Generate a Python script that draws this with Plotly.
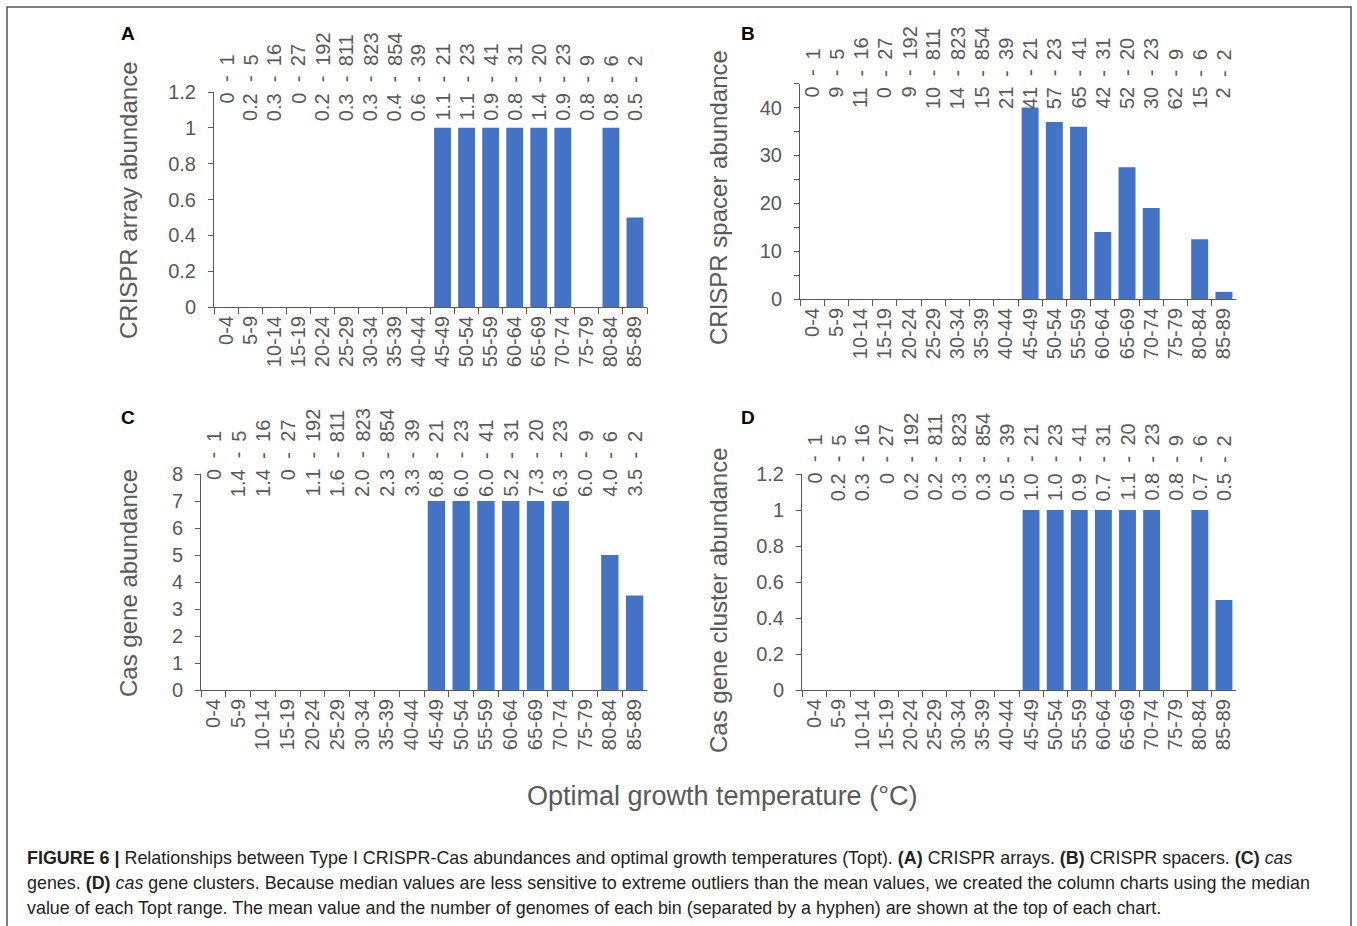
import plotly.graph_objects as go

categories = ["0-4", "5-9", "10-14", "15-19", "20-24", "25-29", "30-34", "35-39", "40-44",
              "45-49", "50-54", "55-59", "60-64", "65-69", "70-74", "75-79", "80-84", "85-89"]
counts = [1, 5, 16, 27, 192, 811, 823, 854, 39, 21, 23, 41, 31, 20, 23, 9, 6, 2]

# Panel A: CRISPR arrays
a_median = [0, 0, 0, 0, 0, 0, 0, 0, 0, 1, 1, 1, 1, 1, 1, 0, 1, 0.5]
a_mean = ["0", "0.2", "0.3", "0", "0.2", "0.3", "0.3", "0.4", "0.6", "1.1", "1.1", "0.9", "0.8", "1.4", "0.9", "0.8", "0.8", "0.5"]
# Panel B: CRISPR spacers
b_median = [0, 0, 0, 0, 0, 0, 0, 0, 0, 40, 37, 36, 14, 27.5, 19, 0, 12.5, 1.5]
b_mean = ["0", "9", "11", "0", "9", "10", "14", "15", "21", "41", "57", "65", "42", "52", "30", "62", "15", "2"]
# Panel C: cas genes
c_median = [0, 0, 0, 0, 0, 0, 0, 0, 0, 7, 7, 7, 7, 7, 7, 0, 5, 3.5]
c_mean = ["0", "1.4", "1.4", "0", "1.1", "1.6", "2.0", "2.3", "3.3", "6.8", "6.0", "6.0", "5.2", "7.3", "6.3", "6.0", "4.0", "3.5"]
# Panel D: cas gene clusters
d_median = [0, 0, 0, 0, 0, 0, 0, 0, 0, 1, 1, 1, 1, 1, 1, 0, 1, 0.5]
d_mean = ["0", "0.2", "0.3", "0", "0.2", "0.2", "0.3", "0.3", "0.5", "1.0", "1.0", "0.9", "0.7", "1.1", "0.8", "0.8", "0.7", "0.5"]

W, H = 1357, 926
FONT = "Liberation Sans, Arial, sans-serif"
GREY = "#595959"
BAR = "#4472C4"

def px(x):
    return x / W

def py(y):
    return 1 - y / H

panels = [
    dict(ax="", med=a_median, mean=a_mean, xd=(214, 647), yd=(92, 307), rng=[0, 1.2], dtick=0.2, minor=None,
         title="CRISPR array abundance", tpos=(128, 201), letter="A", lpos=(128, 34), hy=79),
    dict(ax="2", med=b_median, mean=b_mean, xd=(800, 1236), yd=(83.6, 299), rng=[0, 45], dtick=10, minor=5,
         title="CRISPR spacer abundance", tpos=(718, 198), letter="B", lpos=(748, 34), hy=73),
    dict(ax="3", med=c_median, mean=c_mean, xd=(201, 647), yd=(474, 690), rng=[0, 8], dtick=1, minor=None,
         title="Cas gene abundance", tpos=(128, 583), letter="C", lpos=(128, 417), hy=455),
    dict(ax="4", med=d_median, mean=d_mean, xd=(802, 1236), yd=(474, 690), rng=[0, 1.2], dtick=0.2, minor=None,
         title="Cas gene cluster abundance", tpos=(718, 600), letter="D", lpos=(748, 417), hy=459),
]

fig = go.Figure()
annotations = []
layout_axes = {}

for p in panels:
    ax = p["ax"]
    fig.add_trace(go.Bar(
        x=categories, y=p["med"], xaxis="x" + ax, yaxis="y" + ax,
        marker=dict(color=BAR, line=dict(width=0)),
        showlegend=False, hoverinfo="x+y",
    ))
    xa = dict(
        domain=[px(p["xd"][0]), px(p["xd"][1])], anchor="y" + ax, automargin=False,
        type="category", showline=True, linecolor=GREY, linewidth=1,
        ticks="outside", tickson="boundaries", ticklen=6, tickcolor=GREY,
        tickangle=-90, tickfont=dict(family=FONT, size=20, color=GREY),
        showgrid=False, zeroline=False, fixedrange=True,
    )
    ya = dict(
        domain=[py(p["yd"][1]), py(p["yd"][0])], anchor="x" + ax, automargin=False,
        range=p["rng"], dtick=p["dtick"], tick0=0,
        showline=True, linecolor=GREY, linewidth=1,
        ticks="outside", ticklen=5, tickcolor=GREY,
        tickfont=dict(family=FONT, size=20, color=GREY), ticklabelstandoff=8,
        showgrid=False, zeroline=False, fixedrange=True,
    )
    if p["minor"]:
        ya["minor"] = dict(dtick=p["minor"], ticks="outside", ticklen=5, tickcolor=GREY)
    layout_axes["xaxis" + ax] = xa
    layout_axes["yaxis" + ax] = ya

    annotations.append(dict(
        x=px(p["tpos"][0]), y=py(p["tpos"][1]), xref="paper", yref="paper",
        text=p["title"], textangle=-90, showarrow=False,
        font=dict(family=FONT, size=24, color=GREY), xanchor="center", yanchor="middle",
    ))
    annotations.append(dict(
        x=px(p["lpos"][0]), y=py(p["lpos"][1]), xref="paper", yref="paper",
        text="<b>" + p["letter"] + "</b>", showarrow=False,
        font=dict(family=FONT, size=19, color="black"), xanchor="center", yanchor="middle",
    ))
    # "mean - count" labels above each column, hyphens aligned on one line
    hy = p["hy"]
    for cat, m, n in zip(categories, p["mean"], counts):
        common = dict(x=cat, xref="x" + ax, yref="paper", showarrow=False, textangle=-90,
                      font=dict(family=FONT, size=20, color=GREY), xanchor="center", borderpad=0)
        annotations.append(dict(common, y=py(hy), text="-", yanchor="middle"))
        annotations.append(dict(common, y=py(hy + 13), text=m, yanchor="top"))
        annotations.append(dict(common, y=py(hy - 12), text=str(n), yanchor="bottom"))

annotations.append(dict(
    x=px(722), y=py(796), xref="paper", yref="paper", text="Optimal growth temperature (°C)",
    showarrow=False, font=dict(family=FONT, size=27, color=GREY), xanchor="center", yanchor="middle",
))

CAP = "#231f20"
cap_lines = [
    "<b>FIGURE 6 |</b> Relationships between Type I CRISPR-Cas abundances and optimal growth temperatures (Topt). "
    "<b>(A)</b> CRISPR arrays. <b>(B)</b> CRISPR spacers. <b>(C)</b> <i>cas</i>",
    "genes. <b>(D)</b> <i>cas</i> gene clusters. Because median values are less sensitive to extreme outliers than the "
    "mean values, we created the column charts using the median",
    "value of each Topt range. The mean value and the number of genomes of each bin (separated by a hyphen) are shown "
    "at the top of each chart.",
]
for i, line in enumerate(cap_lines):
    annotations.append(dict(
        x=px(25), y=py(858 + 25 * i), xref="paper", yref="paper", text=line, showarrow=False,
        font=dict(family=FONT, size=17.9, color=CAP), xanchor="left", yanchor="middle", align="left",
    ))

shapes = [dict(type="rect", xref="paper", yref="paper", x0=px(7), x1=px(1351), y0=-0.05, y1=py(7),
               line=dict(color="#555555", width=1.5), fillcolor="rgba(0,0,0,0)")]

fig.update_layout(
    width=W, height=H, margin=dict(l=0, r=0, t=0, b=0, pad=0, autoexpand=False),
    paper_bgcolor="white", plot_bgcolor="white",
    bargap=0.3, annotations=annotations, shapes=shapes,
    **layout_axes,
)

fig.write_html("out.html", config={"displayModeBar": False},
               post_script="document.body.style.margin='0';document.body.style.overflow='hidden';")
